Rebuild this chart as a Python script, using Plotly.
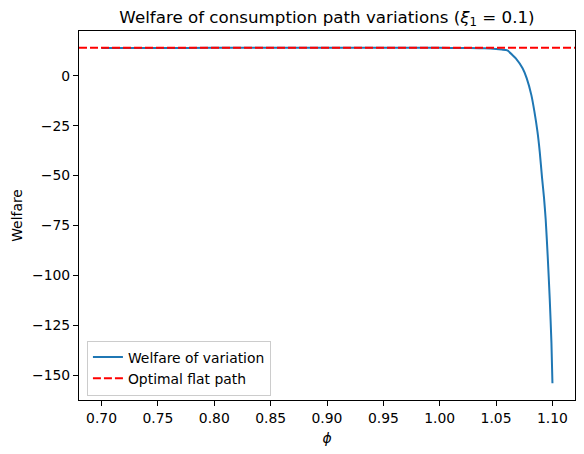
import plotly.graph_objects as go

# values
phi = [0.70, 0.75, 0.80, 0.85, 0.90, 0.95, 1.00, 1.02, 1.035, 1.045, 1.05,
       1.055, 1.06, 1.064, 1.0675, 1.0735, 1.0772, 1.0813, 1.084, 1.0867,
       1.0887, 1.0908, 1.0925, 1.094, 1.0958, 1.0976, 1.0991, 1.10]
welfare = [13.9, 13.9, 13.95, 14.0, 14.0, 14.0, 13.95, 13.9, 13.8, 13.6, 13.4,
           13.1, 12.7, 10.6, 8.7, 3.7, -1.3, -9.7, -18.0, -28.0,
           -38.0, -51.3, -61.0, -72.0, -90.5, -112.0, -133.8, -154.0]
optimal_flat = 14.0

x_limits = [0.68, 1.12]
y_limits = [-162.4, 22.4]
x_ticks = [0.70, 0.75, 0.80, 0.85, 0.90, 0.95, 1.00, 1.05, 1.10]
x_ticktext = ["0.70", "0.75", "0.80", "0.85", "0.90", "0.95", "1.00", "1.05", "1.10"]
y_ticks = [0, -25, -50, -75, -100, -125, -150]
y_ticktext = ["0", "\u221225", "\u221250", "\u221275", "\u2212100", "\u2212125", "\u2212150"]

fig = go.Figure()

fig.add_trace(go.Scatter(
    x=phi, y=welfare,
    mode="lines",
    name="Welfare of variation",
    line=dict(color="#1f77b4", width=2, shape="spline", smoothing=0.6),
))

# horizontal line across the full axis
fig.add_trace(go.Scatter(
    x=x_limits, y=[optimal_flat, optimal_flat],
    mode="lines",
    name="Optimal flat path",
    line=dict(color="red", width=2, dash="8px,3px"),
))

axis_common = dict(
    showgrid=False, zeroline=False,
    showline=True, linecolor="black", linewidth=1.1, mirror=True,
    ticks="outside", ticklen=5, tickwidth=1.1, tickcolor="black",
    tickfont=dict(size=13.9, color="black"),
)

fig.update_layout(
    width=584, height=454,
    margin=dict(l=79, r=9, t=31, b=54),
    paper_bgcolor="white", plot_bgcolor="white",
    font=dict(family="DejaVu Sans", color="black"),
    title=dict(
        text="Welfare of consumption path variations (<i>\u03be</i><sub>1</sub> = 0.1)",
        x=327 / 584, xanchor="center",
        y=1 - 17 / 454, yanchor="middle",
        font=dict(size=16.7),
    ),
    xaxis=dict(
        range=x_limits, tickvals=x_ticks, ticktext=x_ticktext,
        title=dict(text="<i>\u03d5</i>", font=dict(size=13.9), standoff=8),
        **axis_common,
    ),
    yaxis=dict(
        range=y_limits, tickvals=y_ticks, ticktext=y_ticktext,
        title=dict(text="Welfare", font=dict(size=13.9), standoff=6),
        **axis_common,
    ),
    legend=dict(
        x=0.016, y=0.012, xanchor="left", yanchor="bottom",
        bgcolor="rgba(255,255,255,0.8)", bordercolor="#cccccc", borderwidth=1,
        font=dict(size=13.9),
        tracegroupgap=0,
    ),
    showlegend=True,
)

# drop the default page margin so the figure sits at the window origin
fig.write_html("out.html", config={"displayModeBar": False},
               post_script="document.body.style.margin='0';")
